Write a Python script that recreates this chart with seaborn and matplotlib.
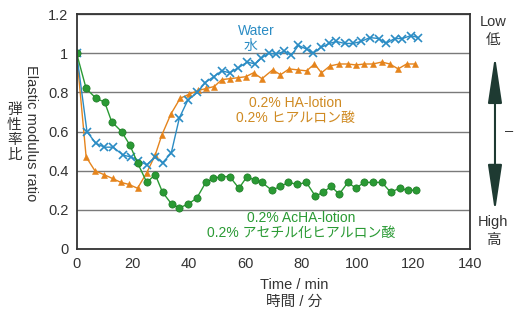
import matplotlib
matplotlib.use("Agg")
import matplotlib.pyplot as plt
import seaborn as sns
import pandas as pd

# Water
tempo_agua = [0, 3.7, 6.8, 9.9, 13, 16.5, 19.3, 22, 25, 28, 30.6, 33.7, 36.6, 39.6,
              43, 45.8, 48.8, 51.7, 54.5, 57.5, 60.8, 63.5, 65.8, 68.4, 71, 74,
              76.5, 79, 82, 84.3, 87, 90, 92.5, 95.5, 98.4, 101.3, 104.4, 107.6,
              110.2, 113.2, 116, 119, 121.7]
razao_agua = [1.00, 0.60, 0.54, 0.52, 0.52, 0.48, 0.47, 0.45, 0.43, 0.47, 0.44, 0.49,
              0.67, 0.76, 0.80, 0.85, 0.88, 0.91, 0.90, 0.925, 0.955, 0.945, 0.975,
              1.00, 0.995, 1.01, 0.99, 1.04, 1.02, 1.00, 1.03, 1.05, 1.06, 1.05,
              1.05, 1.06, 1.08, 1.075, 1.05, 1.075, 1.075, 1.09, 1.08]

# 0.2% HA-lotion
tempo_ha = [0, 3.4, 6.5, 9.7, 12.8, 15.8, 18.6, 21.7, 25, 28, 30.3, 33.6, 36.9, 40,
            43.4, 46.2, 49, 51.7, 54.5, 57.5, 60.2, 63, 66, 69.8, 72.6, 75.7, 78.7,
            81.9, 84.7, 87.2, 90.2, 93.5, 96.6, 99.5, 102.5, 105.5, 108.7, 111.5,
            114.5, 117.5, 120.6]
razao_ha = [1.00, 0.47, 0.40, 0.38, 0.36, 0.34, 0.33, 0.31, 0.39, 0.48, 0.58, 0.69,
            0.77, 0.79, 0.81, 0.82, 0.83, 0.865, 0.87, 0.875, 0.88, 0.90, 0.87,
            0.915, 0.89, 0.92, 0.915, 0.91, 0.945, 0.90, 0.935, 0.945, 0.945, 0.94,
            0.945, 0.945, 0.955, 0.945, 0.92, 0.945, 0.945]

# 0.2% AcHA-lotion
tempo_acha = [0, 3.4, 6.9, 10, 12.5, 16, 19, 21.7, 25, 28, 30.6, 33.8, 36.6, 39.8,
              42.8, 46, 48.7, 51.5, 54.5, 57.8, 60.7, 63.5, 66, 69.5, 72.6, 75.4,
              78.6, 81.8, 85, 87.9, 90.6, 93.5, 96.6, 99.5, 102.3, 105.5, 108.7,
              111.8, 115, 117.9, 121]
razao_acha = [1.00, 0.82, 0.77, 0.75, 0.65, 0.60, 0.53, 0.44, 0.34, 0.38, 0.29, 0.23,
              0.21, 0.23, 0.26, 0.34, 0.36, 0.37, 0.37, 0.31, 0.37, 0.35, 0.34, 0.30,
              0.32, 0.34, 0.33, 0.34, 0.27, 0.29, 0.32, 0.28, 0.34, 0.31, 0.34, 0.34,
              0.34, 0.29, 0.31, 0.30, 0.30]

AZUL = "#2b8cc4"
LARANJA = "#e5841c"
VERDE = "#2a9a34"
CINZA = "#333333"

sns.set_theme(style="white")
plt.rcParams["font.family"] = ["Liberation Sans", "Noto Sans CJK JP"]

fig = plt.figure(figsize=(5.14, 3.2), dpi=100)
ax = fig.add_axes([0.149, 0.222, 0.765, 0.734])

ax.yaxis.grid(True, color="#7a7a7a", linewidth=1.0)
ax.set_axisbelow(True)

sns.lineplot(x=tempo_ha, y=razao_ha, ax=ax, color=LARANJA, marker="^",
             markersize=5, markeredgewidth=0.4, markeredgecolor=LARANJA,
             linewidth=1.0, sort=False)
sns.lineplot(x=tempo_agua, y=razao_agua, ax=ax, color=AZUL, marker="x",
             markersize=5.5, markeredgewidth=1.2, markeredgecolor=AZUL,
             linewidth=1.0, sort=False)
sns.lineplot(x=tempo_acha, y=razao_acha, ax=ax, color=VERDE, marker="o",
             markersize=5.2, markeredgewidth=0.5, markeredgecolor="#1d7a25",
             linewidth=1.0, sort=False)

ax.set_xlim(0, 140)
ax.set_ylim(0, 1.2)
ax.set_xticks([0, 20, 40, 60, 80, 100, 120, 140])
ax.set_yticks([0, 0.2, 0.4, 0.6, 0.8, 1.0, 1.2])
ax.set_yticklabels(["0", "0.2", "0.4", "0.6", "0.8", "1", "1.2"])
ax.tick_params(axis="x", direction="in", length=7, width=1.2, color=CINZA,
               labelsize=10.5, labelcolor=CINZA, pad=6)
ax.tick_params(axis="y", length=0, labelsize=10.5, labelcolor=CINZA, pad=6)
for s in ax.spines.values():
    s.set_color(CINZA)
    s.set_linewidth(1.3)

# rotulos das series
ax.text(64, 1.115, "Water", color=AZUL, fontsize=10, ha="center", va="center")
ax.text(62, 1.035, "水", color=AZUL, fontsize=10, ha="center", va="center")
ax.text(78, 0.745, "0.2% HA-lotion", color="#cf8a22", fontsize=10,
        ha="center", va="center")
ax.text(78, 0.67, "0.2% ヒアルロン酸", color="#cf8a22", fontsize=10,
        ha="center", va="center")
ax.text(80, 0.158, "0.2% AcHA-lotion", color=VERDE, fontsize=10,
        ha="center", va="center")
ax.text(80, 0.082, "0.2% アセチル化ヒアルロン酸", color=VERDE, fontsize=10,
        ha="center", va="center")

# titulos dos eixos
fig.text(0.573, 0.108, "Time / min", color=CINZA, fontsize=10.5,
         ha="center", va="center")
fig.text(0.573, 0.058, "時間 / 分", color=CINZA, fontsize=10.5,
         ha="center", va="center")
fig.text(0.060, 0.585, "Elastic modulus ratio", color=CINZA, fontsize=10.5,
         rotation=-90, ha="center", va="center")
fig.text(0.028, 0.585, "弾\n性\n率\n比", color=CINZA, fontsize=10.5,
         ha="center", va="center", linespacing=1.1)

# escala a direita
fig.text(0.959, 0.93, "Low", color=CINZA, fontsize=10.5, ha="center", va="center")
fig.text(0.959, 0.875, "低", color=CINZA, fontsize=10.5, ha="center", va="center")
fig.text(0.959, 0.305, "High", color=CINZA, fontsize=10.5, ha="center", va="center")
fig.text(0.959, 0.25, "高", color=CINZA, fontsize=10.5, ha="center", va="center")
fig.text(0.99, 0.59, "–", color=CINZA, fontsize=10.5, ha="center", va="center")
ax.annotate("", xy=(0.963, 0.825), xytext=(0.963, 0.338),
            xycoords="figure fraction", textcoords="figure fraction",
            arrowprops=dict(arrowstyle="<|-|>,head_length=1.6,head_width=0.24",
                            mutation_scale=18, color="#1e3a32", lw=1.5,
                            shrinkA=0, shrinkB=0))

fig.savefig("out.png", dpi=100)
